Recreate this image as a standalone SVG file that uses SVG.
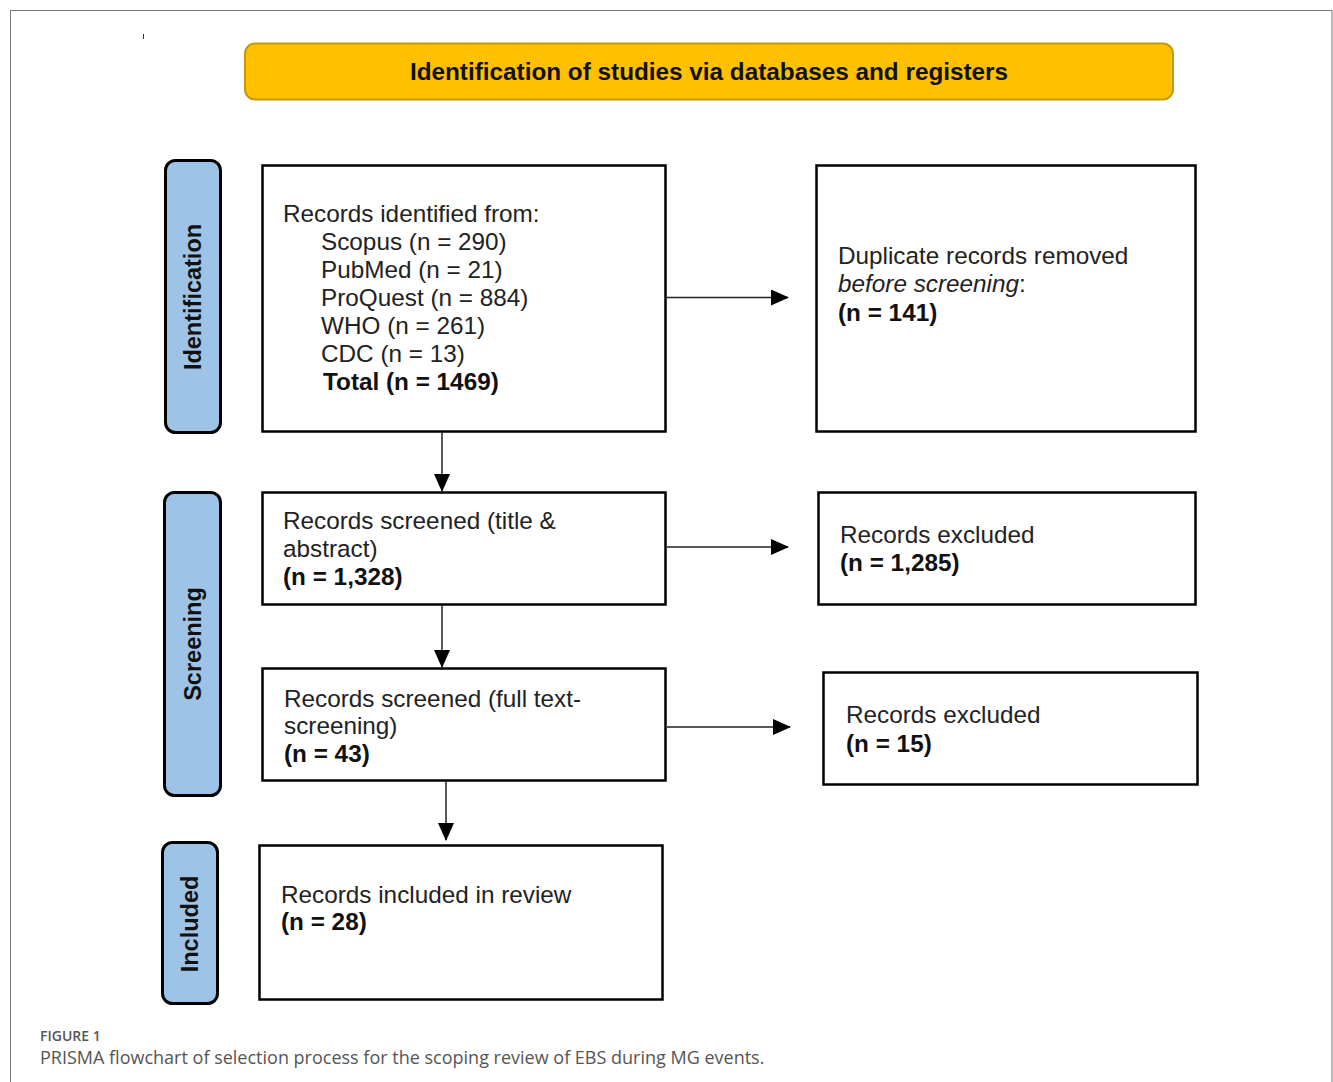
<svg xmlns="http://www.w3.org/2000/svg" width="1333" height="1082" viewBox="0 0 1333 1082">
<defs>
<style>
.box{fill:#fff;stroke:#000;stroke-width:2.5}
.side{fill:#9DC3E6;stroke:#000;stroke-width:3}
.t{font-family:"Liberation Sans",Arial,sans-serif;font-size:24.3px;fill:#222}
.b{font-weight:bold;fill:#111}
.st{font-family:"Liberation Sans",Arial,sans-serif;font-size:23.5px;font-weight:bold;fill:#111;text-anchor:middle}
.conn line{stroke:#222;stroke-width:1.5}
</style>
<marker id="ahb" markerWidth="18" markerHeight="16" refX="17" refY="8" orient="auto" markerUnits="userSpaceOnUse" viewBox="0 0 18 16">
<path d="M0,0 L18,8 L0,16 z" fill="#000"/>
</marker>
</defs>
<rect width="1333" height="1082" fill="#fff"/>
<path d="M10.5,1082 V10.5 H1332 V1082" fill="none" stroke="#777" stroke-width="1"/>
<line x1="143.5" y1="34" x2="143.5" y2="39" stroke="#333" stroke-width="1"/>

<g id="header">
<rect x="245" y="43.5" width="928" height="56" rx="10" fill="#FFC000" stroke="#C49A10" stroke-width="2"/>
<text x="709" y="80" class="t b" text-anchor="middle">Identification of studies via databases and registers</text>
</g>

<g id="side-identification">
<rect x="165.5" y="160.5" width="55" height="272" rx="10" class="side"/>
<text class="st" transform="translate(201,297) rotate(-90)">Identification</text>
</g>
<g id="side-screening">
<rect x="164.5" y="492.5" width="56" height="303" rx="10" class="side"/>
<text class="st" transform="translate(201,644) rotate(-90)">Screening</text>
</g>
<g id="side-included">
<rect x="162.5" y="842.5" width="55" height="161" rx="10" class="side"/>
<text class="st" transform="translate(198,924) rotate(-90)">Included</text>
</g>

<g id="identified">
<rect x="262.5" y="165.5" width="403" height="266" class="box"/>
<text class="t" x="283" y="222">Records identified from:</text>
<text class="t" x="321" y="250">Scopus (n = 290)</text>
<text class="t" x="321" y="278">PubMed (n = 21)</text>
<text class="t" x="321" y="306">ProQuest (n = 884)</text>
<text class="t" x="321" y="334">WHO (n = 261)</text>
<text class="t" x="321" y="362">CDC (n = 13)</text>
<text class="t b" x="323" y="390">Total (n = 1469)</text>
</g>

<g id="duplicates">
<rect x="816.5" y="165.5" width="379" height="266" class="box"/>
<text class="t" x="838" y="264">Duplicate records removed</text>
<text class="t" x="838" y="292"><tspan font-style="italic">before screening</tspan>:</text>
<text class="t b" x="838" y="321">(n = 141)</text>
</g>

<g id="screened-ta">
<rect x="262.5" y="492.5" width="403" height="112" class="box"/>
<text class="t" x="283" y="529">Records screened (title &amp;</text>
<text class="t" x="283" y="557">abstract)</text>
<text class="t b" x="283" y="585">(n = 1,328)</text>
</g>

<g id="excluded-1">
<rect x="818.5" y="492.5" width="377" height="112" class="box"/>
<text class="t" x="840" y="543">Records excluded</text>
<text class="t b" x="840" y="571">(n = 1,285)</text>
</g>

<g id="screened-ft">
<rect x="262.5" y="668.5" width="403" height="112" class="box"/>
<text class="t" x="284" y="707">Records screened (full text-</text>
<text class="t" x="284" y="734">screening)</text>
<text class="t b" x="284" y="762">(n = 43)</text>
</g>

<g id="excluded-2">
<rect x="823.5" y="672.5" width="374" height="112" class="box"/>
<text class="t" x="846" y="723">Records excluded</text>
<text class="t b" x="846" y="752">(n = 15)</text>
</g>

<g id="included">
<rect x="259.5" y="845.5" width="403" height="154" class="box"/>
<text class="t" x="281" y="903">Records included in review</text>
<text class="t b" x="281" y="930">(n = 28)</text>
</g>

<g id="connectors" class="conn">
<line x1="667" y1="297.5" x2="788" y2="297.5" marker-end="url(#ahb)"/>
<line x1="442" y1="432" x2="442" y2="491" marker-end="url(#ahb)"/>
<line x1="667" y1="547" x2="788" y2="547" marker-end="url(#ahb)"/>
<line x1="442" y1="605" x2="442" y2="667" marker-end="url(#ahb)"/>
<line x1="667" y1="727" x2="790" y2="727" marker-end="url(#ahb)"/>
<line x1="446" y1="781" x2="446" y2="840" marker-end="url(#ahb)"/>
</g>

<g id="caption">
<text x="40" y="1041" font-family="'Open Sans',sans-serif" font-size="14" font-weight="600" fill="#555">FIGURE 1</text>
<text x="40" y="1064" font-family="'Open Sans',sans-serif" font-size="18" fill="#555">PRISMA flowchart of selection process for the scoping review of EBS during MG events.</text>
</g>
</svg>
